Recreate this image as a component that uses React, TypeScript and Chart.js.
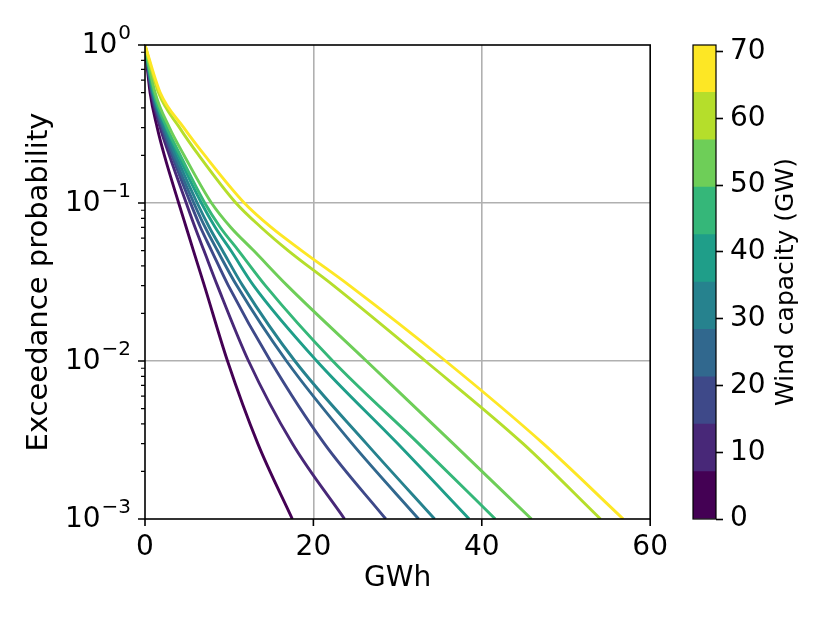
import { useEffect, useRef } from "react"
import { Chart, registerables } from "chart.js"

Chart.register(...registerables)

// exceedance probability levels shared by every curve
const PROB_LEVELS = [1, 0.5, 0.3, 0.2, 0.1, 0.07, 0.05, 0.03, 0.01, 0.003, 0.001]

// energy (GWh) at which each curve reaches the levels above
const GWH_0 = [0, 0.6, 1.45, 2.3, 4.0, 4.9, 5.75, 7.05, 9.8, 13.4, 17.5]
const GWH_1 = [0, 0.74, 1.8, 2.9, 4.9, 5.95, 7.0, 8.6, 12.3, 17.5, 23.7]
const GWH_2 = [0, 0.81, 2.0, 3.2, 5.4, 6.6, 7.9, 9.9, 14.9, 21.3, 28.6]
const GWH_3 = [0, 0.87, 2.15, 3.4, 5.8, 7.15, 8.6, 10.9, 16.8, 24.6, 32.5]
const GWH_4 = [0, 0.93, 2.3, 3.65, 6.2, 7.65, 9.2, 11.6, 17.8, 26.3, 34.4]
const GWH_5 = [0, 1.0, 2.5, 3.95, 6.7, 8.35, 10.2, 12.9, 20.4, 30.0, 38.5]
const GWH_6 = [0, 1.07, 2.6, 4.2, 7.1, 8.95, 11.1, 14.3, 22.3, 32.5, 41.6]
const GWH_7 = [0, 1.2, 2.9, 4.65, 7.9, 10.2, 12.9, 16.9, 26.3, 36.6, 45.9]
const GWH_8 = [0, 1.6, 4.1, 6.4, 10.8, 13.8, 17.0, 22.4, 33.3, 44.9, 54.1]
const GWH_9 = [0, 1.8, 4.6, 7.1, 11.8, 15.0, 18.6, 24.3, 35.7, 47.3, 56.8]
const SERIES = [GWH_0, GWH_1, GWH_2, GWH_3, GWH_4, GWH_5, GWH_6, GWH_7, GWH_8, GWH_9]

const SERIES_COLORS = [
  "#440154", "#482878", "#3e4989", "#31688e", "#26828e",
  "#1f9e89", "#35b779", "#6ece58", "#b5de2b", "#fde725",
]

// colorbar bins (GW)
const CBAR_BOUNDS = [0, 7.1, 14.2, 21.3, 28.4, 35.5, 42.6, 49.7, 56.8, 63.9, 71]
const CBAR_TICKS = [0, 10, 20, 30, 40, 50, 60, 70]

const X_TICKS = [0, 20, 40, 60]
const Y_MAJOR = [0.001, 0.01, 0.1, 1]
const Y_MINOR_MULT = [2, 3, 4, 5, 6, 7, 8, 9]
const Y_TICK_BASE = "10"
const Y_TICK_EXP = ["−3", "−2", "−1", "0"]

const FONT = "DejaVu Sans"
const GRID = "#b0b0b0"

const isMajor = (v: number) => Y_MAJOR.some(m => Math.abs(m - v) / m < 1e-6)

function MainChart() {
  const chartRef = useRef<HTMLCanvasElement>(null)

  useEffect(() => {
    if (!chartRef.current) return

    const yTicks: number[] = []
    Y_MAJOR.forEach((m, i) => {
      yTicks.push(m)
      if (i < Y_MAJOR.length - 1) Y_MINOR_MULT.forEach(k => yTicks.push(m * k))
    })

    const frame = {
      id: "frame",
      afterDraw(chart: any) {
        const { ctx, chartArea: a, scales } = chart
        ctx.save()
        ctx.strokeStyle = "#000"
        ctx.lineWidth = 1.6
        ctx.beginPath()
        X_TICKS.forEach(v => {
          const px = scales.x.getPixelForValue(v)
          ctx.moveTo(px, a.bottom)
          ctx.lineTo(px, a.bottom + 7)
        })
        Y_MAJOR.forEach(v => {
          const py = scales.y.getPixelForValue(v)
          ctx.moveTo(a.left, py)
          ctx.lineTo(a.left - 7, py)
        })
        ctx.stroke()
        ctx.lineWidth = 1.2
        ctx.beginPath()
        yTicks.filter(v => !isMajor(v)).forEach(v => {
          const py = scales.y.getPixelForValue(v)
          ctx.moveTo(a.left, py)
          ctx.lineTo(a.left - 4, py)
        })
        ctx.stroke()
        ctx.lineWidth = 1.6
        ctx.strokeRect(a.left, a.top, a.right - a.left, a.bottom - a.top)

        // y tick labels as 10 with a raised exponent
        ctx.fillStyle = "#000"
        ctx.textBaseline = "middle"
        ctx.textAlign = "right"
        Y_MAJOR.forEach((v, i) => {
          const py = scales.y.getPixelForValue(v)
          const right = a.left - 14
          ctx.font = `20px "${FONT}"`
          const w = ctx.measureText(Y_TICK_EXP[i]).width
          ctx.fillText(Y_TICK_EXP[i], right, py - 11)
          ctx.font = `28px "${FONT}"`
          ctx.fillText(Y_TICK_BASE, right - w - 1, py + 1)
        })
        ctx.restore()
      },
    }

    const chart = new Chart(chartRef.current, {
      type: "line",
      data: {
        datasets: SERIES.map((xs, i) => ({
          label: `${CBAR_BOUNDS[i]} GW`,
          data: xs.map((x, j) => ({ x, y: PROB_LEVELS[j] })),
          borderColor: SERIES_COLORS[i],
          borderWidth: 2.9,
          pointRadius: 0,
          fill: false,
          cubicInterpolationMode: "monotone" as const,
          order: SERIES.length - i,
        })),
      },
      options: {
        animation: false,
        responsive: true,
        maintainAspectRatio: false,
        layout: { padding: { top: 45, right: 20, left: 0, bottom: 0 } },
        plugins: { legend: { display: false }, tooltip: { enabled: false } },
        scales: {
          x: {
            type: "linear",
            min: 0,
            max: 60,
            afterBuildTicks: (s: any) => {
              s.ticks = X_TICKS.map(value => ({ value }))
            },
            afterFit: (s: any) => {
              s.height = 104
            },
            grid: {
              drawTicks: false,
              lineWidth: 1.6,
              color: (c: any) => (c.tick && c.tick.value > 0 && c.tick.value < 60 ? GRID : "rgba(0,0,0,0)"),
            },
            border: { display: false },
            ticks: { color: "#000", font: { family: FONT, size: 28 }, padding: 12, maxRotation: 0 },
            title: {
              display: true,
              text: "GWh",
              color: "#000",
              font: { family: FONT, size: 28 },
              padding: { top: 0, bottom: 27 },
            },
          },
          y: {
            type: "logarithmic",
            min: 0.001,
            max: 1,
            afterBuildTicks: (s: any) => {
              s.ticks = yTicks.map(value => ({ value }))
            },
            afterFit: (s: any) => {
              s.width = 145
            },
            grid: {
              drawTicks: false,
              lineWidth: 1.6,
              color: (c: any) =>
                c.tick && isMajor(c.tick.value) && c.tick.value > 0.0011 && c.tick.value < 0.99 ? GRID : "rgba(0,0,0,0)",
            },
            border: { display: false },
            ticks: {
              autoSkip: false,
              color: "#000",
              font: { family: FONT, size: 28 },
              padding: 14,
              callback: () => "",
            },
            title: {
              display: true,
              text: "Exceedance probability",
              color: "#000",
              font: { family: FONT, size: 29 },
              padding: { top: 22, bottom: 0 },
            },
          },
        },
      },
      plugins: [frame],
    })

    return () => chart.destroy()
  }, [])

  return (
    <div style={{ position: "absolute", left: 0, top: 0, width: 680, height: 623 }}>
      <canvas ref={chartRef} />
    </div>
  )
}

function ColorBar() {
  const chartRef = useRef<HTMLCanvasElement>(null)

  useEffect(() => {
    if (!chartRef.current) return

    const decor = {
      id: "cbarDecor",
      afterDraw(chart: any) {
        const { ctx, chartArea: a } = chart
        ctx.save()
        ctx.strokeStyle = "#000"
        ctx.lineWidth = 1.2
        ctx.strokeRect(a.left, a.top, a.right - a.left, a.bottom - a.top)
        ctx.translate(106, (a.top + a.bottom) / 2)
        ctx.rotate(-Math.PI / 2)
        ctx.fillStyle = "#000"
        ctx.font = `25px "${FONT}"`
        ctx.textAlign = "center"
        ctx.textBaseline = "middle"
        ctx.fillText("Wind capacity (GW)", 0, 0)
        ctx.restore()
      },
    }

    const chart = new Chart(chartRef.current, {
      type: "bar",
      data: {
        labels: [""],
        datasets: SERIES_COLORS.map((c, i) => ({
          data: [[CBAR_BOUNDS[i], CBAR_BOUNDS[i + 1]]] as any,
          backgroundColor: c,
          borderWidth: 0,
          grouped: false,
          barPercentage: 1,
          categoryPercentage: 1,
        })),
      },
      options: {
        animation: false,
        responsive: true,
        maintainAspectRatio: false,
        layout: { padding: { top: 45, bottom: 104, left: 13, right: 0 } },
        plugins: { legend: { display: false }, tooltip: { enabled: false } },
        scales: {
          x: { display: false },
          y: {
            position: "right",
            min: 0,
            max: 71,
            afterBuildTicks: (s: any) => {
              s.ticks = CBAR_TICKS.map(value => ({ value }))
            },
            afterFit: (s: any) => {
              s.width = 114
            },
            grid: { drawOnChartArea: false, drawTicks: true, tickLength: 7, tickColor: "#000", tickWidth: 1.6 },
            border: { display: false },
            ticks: { color: "#000", font: { family: FONT, size: 28 }, padding: 7 },
          },
        },
      },
      plugins: [decor],
    })

    return () => chart.destroy()
  }, [])

  return (
    <div style={{ position: "absolute", left: 680, top: 0, width: 150, height: 623 }}>
      <canvas ref={chartRef} />
    </div>
  )
}

export default function App() {
  return (
    <div style={{ position: "absolute", left: 0, top: 0, width: 830, height: 623, background: "#fff" }}>
      <MainChart />
      <ColorBar />
    </div>
  )
}
